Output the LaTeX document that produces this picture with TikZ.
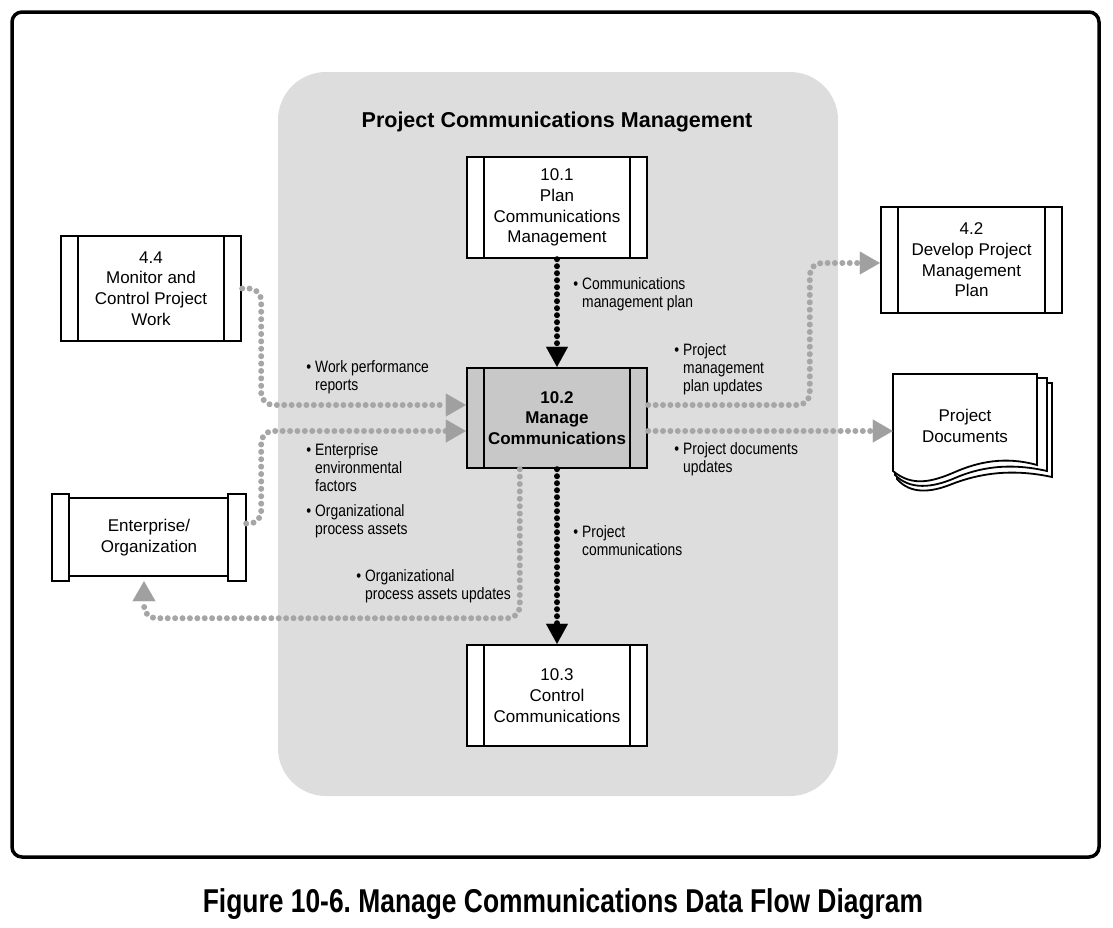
\documentclass[tikz,border=0pt]{standalone}
\usepackage{fontspec}
\setmainfont{Liberation Sans}
\newfontfamily\lblfont[FakeStretch=0.84]{Liberation Sans}
\newfontfamily\capfont[FakeStretch=0.80]{Liberation Sans}
\usetikzlibrary{arrows.meta,calc}
\frenchspacing
\definecolor{regiongray}{HTML}{DDDDDD}
\definecolor{boxgray}{HTML}{C8C8C8}
\definecolor{dotgray}{HTML}{A6A6A6}
\definecolor{arrgray}{HTML}{A0A0A0}
\tikzset{
  proc/.style={draw, line width=2.4pt, fill=white, minimum width=180pt, minimum height=101pt,
    inner sep=0pt, align=center, font=\fontsize{17}{20.7}\selectfont,
    path picture={\draw[line width=2.4pt]
      ($(path picture bounding box.north west)+(17pt,0)$) -- ($(path picture bounding box.south west)+(17pt,0)$)
      ($(path picture bounding box.north east)+(-17pt,0)$) -- ($(path picture bounding box.south east)+(-17pt,0)$);}},
  lbl/.style={anchor=north west, inner sep=0pt, align=left, font=\lblfont\fontsize{16.5}{18.3}\selectfont},
  gdot/.style={draw=dotgray, line width=6pt, line cap=round, dash pattern=on 0pt off 7.4pt, rounded corners=12pt,
    -{Triangle[length=20pt,width=23pt,line width=0.1pt,color=arrgray,fill=arrgray]}},
  bdot/.style={draw=black, line width=6pt, line cap=round, dash pattern=on 0pt off 7pt,
    -{Triangle[length=20pt,width=22pt,line width=0.1pt,color=black,fill=black]}},
}
\newcommand{\bul}{\llap{\textbullet\hspace{4pt}}}
\begin{document}
\begin{tikzpicture}[x=1pt,y=-1pt]
\useasboundingbox (0,0) rectangle (1113,927);
% outer frame and region
\draw[line width=3.5pt, rounded corners=10pt] (12,12) rectangle (1099,857);
\fill[regiongray, rounded corners=48pt] (278,72) rectangle (838,796);
\node[anchor=base, font=\bfseries\fontsize{21.5}{24}\selectfont] (title) at (557,127) {Project Communications Management};

% process boxes
\node[proc] (p101) at (557,207.5) {10.1\\Plan\\Communications\\Management};
\node[proc, fill=boxgray, minimum height=100pt, font=\bfseries\fontsize{17}{20.7}\selectfont] (p102) at (557,418) {10.2\\Manage\\Communications};
\node[proc] (p103) at (557,695.5) {10.3\\Control\\Communications};
\node[proc, minimum height=105pt] (p44) at (151,288.5) {4.4\\Monitor and\\Control Project\\Work};
\node[proc, minimum width=181pt, minimum height=106pt] (p42) at (971.5,260) {4.2\\Develop Project\\Management\\Plan};

% enterprise entity
\node[minimum width=194pt, minimum height=87pt, inner sep=0pt, align=center, font=\fontsize{17}{20.7}\selectfont] (ent) at (149,537.5) {Enterprise/\\Organization};
\draw[line width=2.4pt] ($(ent.north west)+(17,4)$) rectangle ($(ent.south east)+(-18,-5)$);
\draw[line width=2.4pt] (ent.north west) rectangle ($(ent.south west)+(17,0)$);
\draw[line width=2.4pt] ($(ent.north east)+(-18,0)$) rectangle (ent.south east);

% project documents
\draw[line width=1.8pt, fill=white] (897,383) -- (1052,383) -- (1052,477) .. controls (1010,468) and (978,474) .. (952,484) .. controls (930,493) and (910,494) .. (897,479) -- cycle;
\draw[line width=1.8pt, fill=white] (895,378) -- (1047,378) -- (1047,471) .. controls (1008,462) and (978,468) .. (955,478) .. controls (932,488) and (910,490) .. (895,475) -- cycle;
\draw[line width=1.8pt, fill=white] (893,374) -- (1037,374) -- (1037,465) .. controls (1005,456) and (978,462) .. (955,472) .. controls (932,482) and (912,487) .. (893,471) -- cycle;
\node[minimum width=144pt, minimum height=104pt, inner sep=0pt, align=center, font=\fontsize{17}{21}\selectfont] (docs) at (965,426) {Project\\Documents};

% connectors
\draw[bdot] (p101) -- (p102);
\draw[bdot] (p102) -- (p103);
\draw[gdot] (p44.east) -- ++(19,0) |- ($(p102.west)+(0,-13)$);
\draw[gdot] ($(ent.east)+(0,-14)$) -- ++(15,0) |- ($(p102.west)+(0,13)$);
\draw[gdot] ($(p102.south west)+(54,0)$) |- ($(ent.south)+(-5,37)$) -- ($(ent.south)+(-5,0)$);
\draw[gdot] ($(p102.east)+(0,-13)$) -| ($(p42.west)+(-70,3)$) -- ($(p42.west)+(0,3)$);
\draw[gdot] ($(p102.east)+(0,13)$) -- ($(docs.west)+(0,5)$);

% labels
\node[lbl] (lcmp) at (582,277) {\bul Communications\\management plan};
\node[lbl] (lwpr) at (315,360) {\bul Work performance\\reports};
\node[lbl] (lpmp) at (683,343) {\bul Project\\management\\plan updates};
\node[lbl] (lpdu) at (683,442) {\bul Project documents\\updates};
\node[lbl] (leef) at (315,443) {\bul Enterprise\\environmental\\factors};
\node[lbl] (lopa) at (315,504) {\bul Organizational\\process assets};
\node[lbl] (lpc) at (582,525) {\bul Project\\communications};
\node[lbl] (lopau) at (365,569) {\bul Organizational\\process assets updates};

% caption
\node[anchor=base, font=\capfont\bfseries\fontsize{33}{36}\selectfont] (cap) at (563,912) {Figure 10-6. Manage Communications Data Flow Diagram};
\end{tikzpicture}
\end{document}
